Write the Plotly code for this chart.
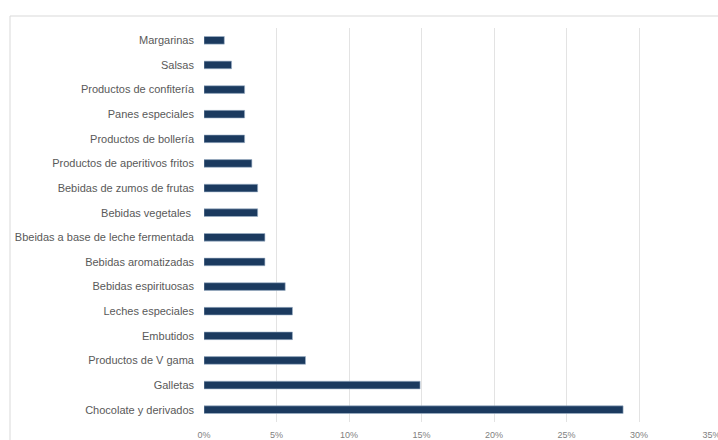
import plotly.graph_objects as go

# Share of products by category (fraction of total)
categories = [
    "Chocolate y derivados",
    "Galletas",
    "Productos de V gama",
    "Embutidos",
    "Leches especiales",
    "Bebidas espirituosas",
    "Bebidas aromatizadas",
    "Bbeidas a base de leche fermentada",
    "Bebidas vegetales ",
    "Bebidas de zumos de frutas",
    "Productos de aperitivos fritos",
    "Productos de bollería",
    "Panes especiales",
    "Productos de confitería",
    "Salsas",
    "Margarinas",
]
shares = [0.289, 0.149, 0.070, 0.061, 0.061, 0.056, 0.042, 0.042,
          0.037, 0.037, 0.033, 0.028, 0.028, 0.028, 0.019, 0.014]

x_ticks = [0, 0.05, 0.10, 0.15, 0.20, 0.25, 0.30, 0.35]
x_tick_labels = ["0%", "5%", "10%", "15%", "20%", "25%", "30%", "35%"]

W, H = 718, 440
ML, MR, MT, MB = 204, 6, 28, 18

fig = go.Figure(
    go.Bar(
        x=shares,
        y=categories,
        orientation="h",
        marker=dict(color="#1b3a5f", line=dict(color="#9fb3c9", width=0.6)),
        hoverinfo="x+y",
    )
)

pw = W - ML - MR
ph = H - MT - MB
# light frame around the chart area
fig.add_shape(
    type="rect", xref="paper", yref="paper",
    x0=(10 - ML) / pw, x1=(W + 5 - ML) / pw,
    y0=(H - MB - (H + 5)) / ph, y1=(H - MB - 16) / ph,
    line=dict(color="#d9d9d9", width=1), fillcolor="rgba(0,0,0,0)", layer="below",
)

fig.update_layout(
    width=W, height=H,
    margin=dict(l=ML, r=MR, t=MT, b=MB),
    paper_bgcolor="white", plot_bgcolor="white",
    bargap=0.69,
    showlegend=False,
    font=dict(family="Liberation Sans, Arial, sans-serif", color="#595959"),
    xaxis=dict(
        range=[0, 0.3503], tickvals=x_ticks, ticktext=x_tick_labels,
        showgrid=True, gridcolor="#e3e3e3", gridwidth=1,
        zeroline=False, showline=False, ticks="",
        ticklabeloverflow="allow", ticklabelstandoff=6, automargin=False,
        tickfont=dict(size=9, color="#7f7f7f"),
    ),
    yaxis=dict(
        categoryorder="array", categoryarray=categories,
        range=[-0.5, len(categories) - 0.5],
        showgrid=False, zeroline=False, showline=False, ticks="",
        ticklabelstandoff=9, automargin=False,
        tickfont=dict(size=11, color="#595959"),
    ),
)

fig.write_html("out.html")
